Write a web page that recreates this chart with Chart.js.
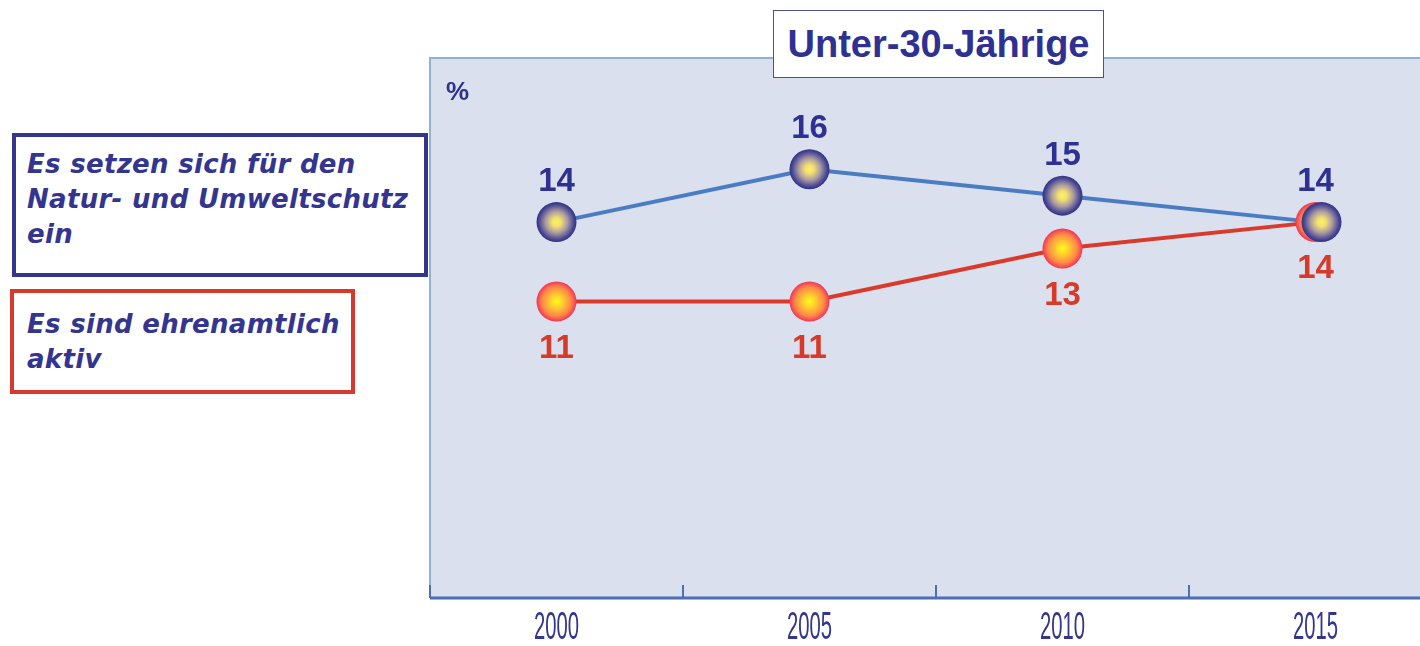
<!DOCTYPE html>
<html lang="de">
<head>
<meta charset="utf-8">
<title>Unter-30-Jährige</title>
<script src="https://cdn.jsdelivr.net/npm/chart.js@4/dist/chart.umd.min.js"></script>
<style>
  html, body { margin: 0; padding: 0; width: 1420px; height: 646px; overflow: hidden; background: #ffffff; }
  #wrap { position: absolute; left: 0; top: 0; width: 1450px; height: 646px; }
  canvas { position: absolute; left: 0; top: 0; }
  .box { position: absolute; box-sizing: border-box; background: #ffffff; }
  .title {
    left: 773px; top: 10px; width: 331px; height: 68px;
    border: 1.5px solid #4b4f9c;
    font: bold 38px "Liberation Sans", Arial, sans-serif; color: #2e3192;
    display: flex; align-items: center; justify-content: center;
  }
  .legend {
    font: italic bold 26px/35px "DejaVu Sans", sans-serif; color: #33358f;
    white-space: nowrap; letter-spacing: 0.3px;
  }
  #legBlue { left: 12px; top: 133px; width: 416px; height: 144px; border: 4px solid #33358f; padding: 10px 0 0 11px; }
  #legRed  { left: 10px; top: 289px; width: 345px; height: 105px; border: 4px solid #d63a2e; padding: 14px 0 0 13px; }
  #unit { position: absolute; left: 446px; top: 76px; font: bold 26px "Liberation Sans", Arial, sans-serif; color: #2e3192; }
</style>
</head>
<body>
<div id="wrap">
  <canvas id="chart" width="1450" height="646"></canvas>
  <div id="unit"></div>
  <div class="box title" id="title"></div>
  <div class="box legend" id="legBlue"></div>
  <div class="box legend" id="legRed"></div>
</div>
<script>
// Survey years and shares (in %) of under-30s
const years = ['2000', '2005', '2010', '2015'];
const umweltschutz = [14, 16, 15, 14];   // engaged in nature and environmental protection
const ehrenamtlich = [11, 11, 13, 14];   // active as volunteers
const seriesNames = [
  'Es setzen sich für den<br>Natur- und Umweltschutz<br>ein',
  'Es sind ehrenamtlich<br>aktiv'
];
const titleText = 'Unter-30-Jährige';
const unitText = '%';

document.getElementById('title').textContent = titleText;
document.getElementById('unit').textContent = unitText;
document.getElementById('legBlue').innerHTML = seriesNames[0];
document.getElementById('legRed').innerHTML = seriesNames[1];

const NAVY = '#2e3192';
const RED = '#d63a2a';

// Plot background, frame, bottom axis with inward ticks and year labels
const framePlugin = {
  id: 'frame',
  beforeDraw(chart) {
    const { ctx, chartArea: a } = chart;
    ctx.save();
    ctx.fillStyle = '#dbe0ee';
    ctx.fillRect(a.left, a.top, a.right - a.left, a.bottom - a.top);
    ctx.strokeStyle = '#8fb1da';
    ctx.lineWidth = 2;
    ctx.beginPath();
    ctx.moveTo(a.left, a.bottom);
    ctx.lineTo(a.left, a.top);
    ctx.lineTo(a.right, a.top);
    ctx.stroke();
    ctx.restore();
  },
  afterDraw(chart) {
    const { ctx, chartArea: a } = chart;
    const xs = chart.scales.x;
    ctx.save();
    ctx.strokeStyle = '#4a6fb5';
    ctx.lineWidth = 3;
    ctx.beginPath();
    ctx.moveTo(a.left, a.bottom);
    ctx.lineTo(a.right, a.bottom);
    ctx.stroke();
    ctx.lineWidth = 2;
    for (let i = 0; i <= years.length; i++) {
      const x = Math.round(xs.getPixelForValue(i - 0.5));
      ctx.beginPath();
      ctx.moveTo(x, a.bottom - 13);
      ctx.lineTo(x, a.bottom);
      ctx.stroke();
    }
    ctx.fillStyle = '#33358f';
    ctx.font = '39px "Liberation Sans", Arial, sans-serif';
    ctx.textAlign = 'center';
    ctx.textBaseline = 'middle';
    years.forEach((y, i) => {
      const x = xs.getPixelForValue(i);
      ctx.save();
      ctx.translate(x, a.bottom + 30);
      ctx.scale(0.52, 1);
      ctx.fillText(y, 0, 0);
      ctx.restore();
    });
    ctx.restore();
  }
};

// Shaded balls on the data points plus value labels
function ball(ctx, x, y, r, stops) {
  const g = ctx.createRadialGradient(x, y, 0, x, y, r);
  stops.forEach(s => g.addColorStop(s[0], s[1]));
  ctx.fillStyle = g;
  ctx.beginPath();
  ctx.arc(x, y, r, 0, Math.PI * 2);
  ctx.fill();
}
const BLUE_BALL = [[0, '#fff25a'], [0.22, '#f2df72'], [0.55, '#a99aa0'], [0.85, '#4f4d95'], [1, '#303087']];
const RED_BALL = [[0, '#ffff10'], [0.3, '#ffd030'], [0.72, '#ff8a45'], [1, '#f0345a']];

const ballPlugin = {
  id: 'balls',
  afterDatasetsDraw(chart) {
    const { ctx } = chart;
    const blue = chart.getDatasetMeta(0).data;
    const red = chart.getDatasetMeta(1).data;
    ctx.save();
    red.forEach(p => ball(ctx, p.x, p.y, 20, RED_BALL));
    blue.forEach((p, i) => {
      const overlap = Math.abs(p.y - red[i].y) < 1;
      ball(ctx, p.x + (overlap ? 6 : 0), p.y, 20, BLUE_BALL);
    });
    ctx.font = 'bold 33px "Liberation Sans", Arial, sans-serif';
    ctx.textAlign = 'center';
    ctx.textBaseline = 'middle';
    ctx.fillStyle = NAVY;
    blue.forEach((p, i) => ctx.fillText(String(umweltschutz[i]), p.x, p.y - 40));
    ctx.fillStyle = RED;
    red.forEach((p, i) => ctx.fillText(String(ehrenamtlich[i]), p.x, p.y + 47));
    ctx.restore();
  }
};

new Chart(document.getElementById('chart'), {
  type: 'line',
  data: {
    labels: years,
    datasets: [
      { label: 'Natur- und Umweltschutz', data: umweltschutz, borderColor: '#4a7cc4', borderWidth: 4, pointRadius: 0, tension: 0 },
      { label: 'Ehrenamtlich aktiv', data: ehrenamtlich, borderColor: '#d93a2b', borderWidth: 4, pointRadius: 0, tension: 0 }
    ]
  },
  options: {
    responsive: false,
    animation: false,
    devicePixelRatio: 1,
    layout: { padding: { left: 430, top: 58, right: 8, bottom: 48 } },
    scales: {
      x: { type: 'category', display: false, offset: true },
      y: { display: false, min: -0.2, max: 20.2 }
    },
    plugins: { legend: { display: false }, tooltip: { enabled: false } }
  },
  plugins: [framePlugin, ballPlugin]
});
</script>
</body>
</html>
